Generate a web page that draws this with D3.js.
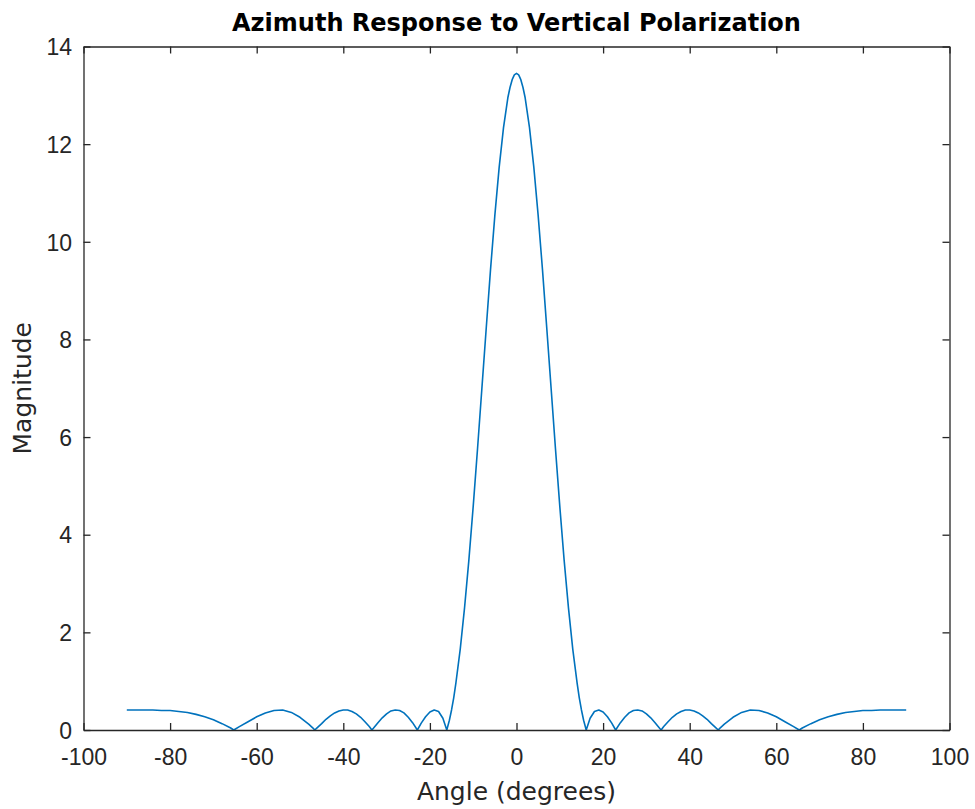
<!DOCTYPE html>
<html>
<head>
<meta charset="utf-8">
<script src="https://cdn.jsdelivr.net/npm/d3@7"></script>
<style>
  html, body { margin: 0; padding: 0; background: #fff; }
  svg { display: block; }
</style>
</head>
<body>
<svg id="chart" width="975" height="809"></svg>
<script>
// ---- Data ----
const angleDeg = [
  -90, -88, -86, -84, -82, -80, -78, -76, -74, -72, -70, -68, -66, -65.3,
  -64, -62, -60, -58, -56, -54, -52, -50, -48, -47, -46.6,
  -46, -45, -44, -43, -42, -41, -40, -39, -38, -37, -36, -35, -34, -33.4,
  -33, -32, -31, -30, -29, -28, -27, -26, -25, -24, -22.9,
  -22, -21, -20, -19, -18, -17, -16.1,
  -15.5, -15, -14.5, -14, -13, -12, -11, -10, -9, -8, -7, -6, -5, -4, -3, -2, -1.5, -1, -0.5,
  0,
  0.5, 1, 1.5, 2, 3, 4, 5, 6, 7, 8, 9, 10, 11, 12, 13, 14, 14.5, 15, 15.5,
  16.1, 17, 18, 19, 20, 21, 22,
  22.9, 24, 25, 26, 27, 28, 29, 30, 31, 32, 33,
  33.4, 34, 35, 36, 37, 38, 39, 40, 41, 42, 43, 44, 45, 46,
  46.6, 47, 48, 50, 52, 54, 56, 58, 60, 62, 64,
  65.3, 66, 68, 70, 72, 74, 76, 78, 80, 82, 84, 86, 88, 90
];
const magnitude = [
  0.41, 0.41, 0.41, 0.41, 0.40, 0.40, 0.38, 0.36, 0.32, 0.27, 0.21, 0.13, 0.04, 0,
  0.07, 0.17, 0.27, 0.35, 0.40, 0.41, 0.36, 0.26, 0.12, 0.04, 0,
  0.05, 0.13, 0.22, 0.29, 0.35, 0.39, 0.41, 0.41, 0.38, 0.33, 0.26, 0.17, 0.07, 0,
  0.04, 0.15, 0.25, 0.33, 0.39, 0.41, 0.40, 0.35, 0.26, 0.15, 0,
  0.14, 0.27, 0.37, 0.41, 0.38, 0.24, 0,
  0.20, 0.41, 0.66, 0.96, 1.65, 2.50, 3.48, 4.58, 5.76, 6.99, 8.22, 9.43, 10.54, 11.53, 12.34, 12.95, 13.16, 13.32, 13.42,
  13.45,
  13.42, 13.32, 13.16, 12.95, 12.34, 11.53, 10.54, 9.43, 8.22, 6.99, 5.76, 4.58, 3.48, 2.50, 1.65, 0.96, 0.66, 0.41, 0.20,
  0, 0.24, 0.38, 0.41, 0.37, 0.27, 0.14,
  0, 0.15, 0.26, 0.35, 0.40, 0.41, 0.39, 0.33, 0.25, 0.15, 0.04,
  0, 0.07, 0.17, 0.26, 0.33, 0.38, 0.41, 0.41, 0.39, 0.35, 0.29, 0.22, 0.13, 0.05,
  0, 0.04, 0.12, 0.26, 0.36, 0.41, 0.40, 0.35, 0.27, 0.17, 0.07,
  0, 0.04, 0.13, 0.21, 0.27, 0.32, 0.36, 0.38, 0.40, 0.40, 0.41, 0.41, 0.41, 0.41
];
const xTicks = [-100, -80, -60, -40, -20, 0, 20, 40, 60, 80, 100];
const yTicks = [0, 2, 4, 6, 8, 10, 12, 14];
const titleText = "Azimuth Response to Vertical Polarization";
const xLabelText = "Angle (degrees)";
const yLabelText = "Magnitude";

// ---- Layout ----
const plot = { left: 83.5, right: 949.5, top: 46.5, bottom: 730 };
const axisColor = "#262626";
const lineColor = "#0072BD";
const tickFont = "'Liberation Sans', Arial, Helvetica, sans-serif";
const labelFont = "'DejaVu Sans', Verdana, sans-serif";
const fmt = d => String(d);   // plain hyphen-minus like the reference

const svg = d3.select("#chart");
const x = d3.scaleLinear().domain([-100, 100]).range([plot.left, plot.right]);
const y = d3.scaleLinear().domain([0, 14]).range([plot.bottom, plot.top]);

const points = angleDeg.map((a, i) => [a, magnitude[i]]);

// Data line
const line = d3.line().x(d => x(d[0])).y(d => y(d[1])).curve(d3.curveLinear);
svg.append("path")
  .datum(points)
  .attr("d", line)
  .attr("fill", "none")
  .attr("stroke", lineColor)
  .attr("stroke-width", 1.6)
  .attr("stroke-linejoin", "round");

function styleAxis(g) {
  g.select(".domain").attr("stroke", axisColor).attr("stroke-width", 1.3);
  g.selectAll(".tick line").attr("stroke", axisColor).attr("stroke-width", 1.3);
  g.selectAll(".tick text")
    .attr("fill", axisColor)
    .style("font-family", tickFont)
    .style("font-size", "23px");
  g.attr("font-family", null).attr("font-size", null);
}

// Bottom axis
svg.append("g")
  .attr("transform", `translate(0,${plot.bottom})`)
  .call(d3.axisBottom(x).tickValues(xTicks).tickSizeInner(-7).tickSizeOuter(0).tickPadding(18.5).tickFormat(fmt))
  .call(styleAxis);

// Top axis (ticks only)
svg.append("g")
  .attr("transform", `translate(0,${plot.top})`)
  .call(d3.axisTop(x).tickValues(xTicks).tickSizeInner(-7).tickSizeOuter(0).tickFormat(""))
  .call(styleAxis);

// Left axis
svg.append("g")
  .attr("transform", `translate(${plot.left},0)`)
  .call(d3.axisLeft(y).tickValues(yTicks).tickSizeInner(-7).tickSizeOuter(0).tickPadding(11.5).tickFormat(fmt))
  .call(styleAxis)
  .selectAll(".tick text").attr("dy", "0.36em");

// Right axis (ticks only)
svg.append("g")
  .attr("transform", `translate(${plot.right},0)`)
  .call(d3.axisRight(y).tickValues(yTicks).tickSizeInner(-7).tickSizeOuter(0).tickFormat(""))
  .call(styleAxis);

// Title
svg.append("text")
  .attr("x", (plot.left + plot.right) / 2)
  .attr("y", 30.5)
  .attr("text-anchor", "middle")
  .style("font-family", labelFont)
  .style("font-weight", "bold")
  .style("font-size", "24px")
  .attr("fill", "#000")
  .text(titleText);

// X label
svg.append("text")
  .attr("x", (plot.left + plot.right) / 2)
  .attr("y", 800)
  .attr("text-anchor", "middle")
  .style("font-family", labelFont)
  .style("font-size", "25px")
  .attr("fill", axisColor)
  .text(xLabelText);

// Y label
svg.append("text")
  .attr("transform", `translate(31,${(plot.top + plot.bottom) / 2}) rotate(-90)`)
  .attr("text-anchor", "middle")
  .style("font-family", labelFont)
  .style("font-size", "25px")
  .attr("fill", axisColor)
  .text(yLabelText);
</script>
</body>
</html>
